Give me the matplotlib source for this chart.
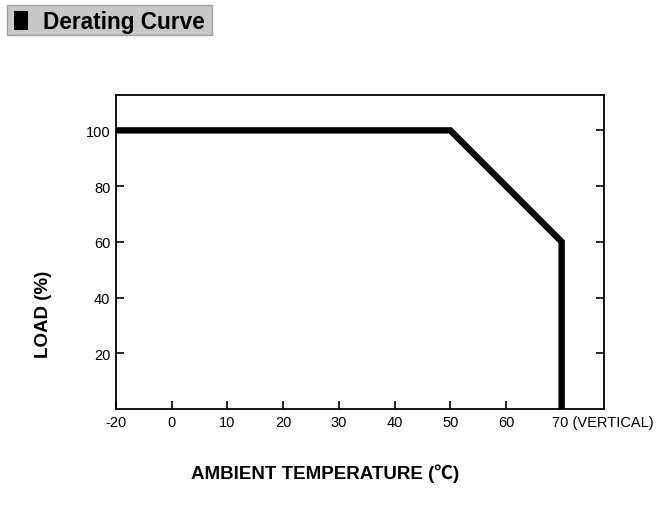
import numpy as np
import matplotlib.pyplot as plt
import matplotlib.transforms as mtrans
from matplotlib.patches import Rectangle

# derating curve data
temps = [-20, 50, 70, 70]
loads = [100, 100, 60, 0]
xticks = [-20, 0, 10, 20, 30, 40, 50, 60, 70]
xticklabels = ['-20', '0', '10', '20', '30', '40', '50', '60', '70 (VERTICAL)']
yticks = [20, 40, 60, 80, 100]

plt.rcParams['font.family'] = ['Liberation Sans', 'Noto Sans CJK SC', 'DejaVu Sans']


# the datasheet squeezes -20..0 into one tick step
def fwd(x):
    x = np.asarray(x, dtype=float)
    return np.where(x < 0, x / 2, x)


def inv(x):
    x = np.asarray(x, dtype=float)
    return np.where(x < 0, x * 2, x)


fig = plt.figure(figsize=(6.67, 5.06), dpi=100)
W, H = 667, 506
ax = fig.add_axes([116 / W, 1 - 410 / H, (604 - 116) / W, (410 - 96) / H])
ax.set_xscale('function', functions=(fwd, inv))

ax.plot(temps, loads, color='black', lw=4.6, solid_joinstyle='miter', solid_capstyle='butt')

ax.set_xlim(-20, 77.6)
ax.set_ylim(0, 112.7)
ax.set_xticks(xticks)
ax.set_xticklabels(xticklabels, fontsize=10.5)
ax.xaxis.set_minor_locator(plt.NullLocator())
ax.set_yticks(yticks)
ax.set_yticklabels([str(v) for v in yticks], fontsize=10.5)
ax.tick_params(axis='both', direction='in', length=6, width=1.2, color='black', pad=4)
ax.tick_params(axis='y', right=True)
for s in ax.spines.values():
    s.set_linewidth(1.3)

# shift "70 (VERTICAL)" so the 70 sits under its tick
lab = ax.get_xticklabels()[-1]
lab.set_horizontalalignment('left')
lab.set_transform(lab.get_transform() + mtrans.ScaledTranslation(-7 / 72, 0, fig.dpi_scale_trans))

fig.text(325 / W, 1 - 474 / H, 'AMBIENT TEMPERATURE (℃)', ha='center', va='center',
         fontsize=13.5, fontweight='bold')
fig.text(43 / W, 1 - 314 / H, 'LOAD (%)', ha='center', va='center', rotation=90,
         fontsize=13.5, fontweight='bold')

# title box
fig.patches.append(Rectangle((7 / W, 1 - 36 / H), (212 - 7) / W, (36 - 6) / H,
                             transform=fig.transFigure, facecolor='#c8c8c8',
                             edgecolor='#a0a0a0', lw=1))
fig.patches.append(Rectangle((14 / W, 1 - 31 / H), 14 / W, 19 / H,
                             transform=fig.transFigure, facecolor='black', edgecolor='none'))
fig.text(43 / W, 1 - 22 / H, 'Derating Curve', ha='left', va='center',
         fontsize=16.3, fontweight='bold')

fig.savefig('out.png', dpi=100)
